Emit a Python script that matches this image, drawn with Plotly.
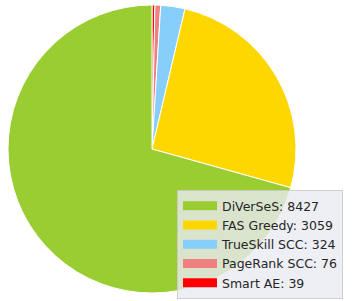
import plotly.graph_objects as go

labels = ["DiVerSeS", "FAS Greedy", "TrueSkill SCC", "PageRank SCC", "Smart AE"]
values = [8427, 3059, 324, 76, 39]
colors = ["#9ACD32", "#FFD700", "#87CEFA", "#F08080", "#FF0000"]

W, H = 354, 301
fig = go.Figure()
# drawn clockwise from 12 o'clock in reversed order == counterclockwise from 12 o'clock in original order
fig.add_trace(go.Pie(
    labels=labels[::-1], values=values[::-1], sort=False, direction="clockwise", rotation=0,
    marker=dict(colors=colors[::-1], line=dict(color="white", width=1)),
    textinfo="none", hoverinfo="label+value", showlegend=False,
    domain=dict(x=[8 / W, 296 / W], y=[1 - 293 / H, 1 - 5 / H]),
))
for lab, val, col in zip(labels, values, colors):
    fig.add_trace(go.Scatter(
        x=[None], y=[None], mode="lines", name=f"{lab}: {val}",
        line=dict(color=col, width=9), hoverinfo="skip",
    ))
fig.update_layout(
    width=W, height=H, margin=dict(l=0, r=0, t=0, b=0, autoexpand=False),
    paper_bgcolor="white", plot_bgcolor="white",
    xaxis=dict(visible=False), yaxis=dict(visible=False),
    font=dict(family="DejaVu Sans, sans-serif", size=12.5, color="#262626"),
    legend=dict(x=177 / W, y=1 - 190 / H, xanchor="left", yanchor="top",
                bgcolor="rgba(234,234,242,0.8)", bordercolor="rgba(204,204,204,0.9)",
                borderwidth=1, itemwidth=34, tracegroupgap=0,
                font=dict(size=12.5)),
)
fig.write_html("out.html", config={"displayModeBar": False},
               post_script="document.body.style.margin='0';")
